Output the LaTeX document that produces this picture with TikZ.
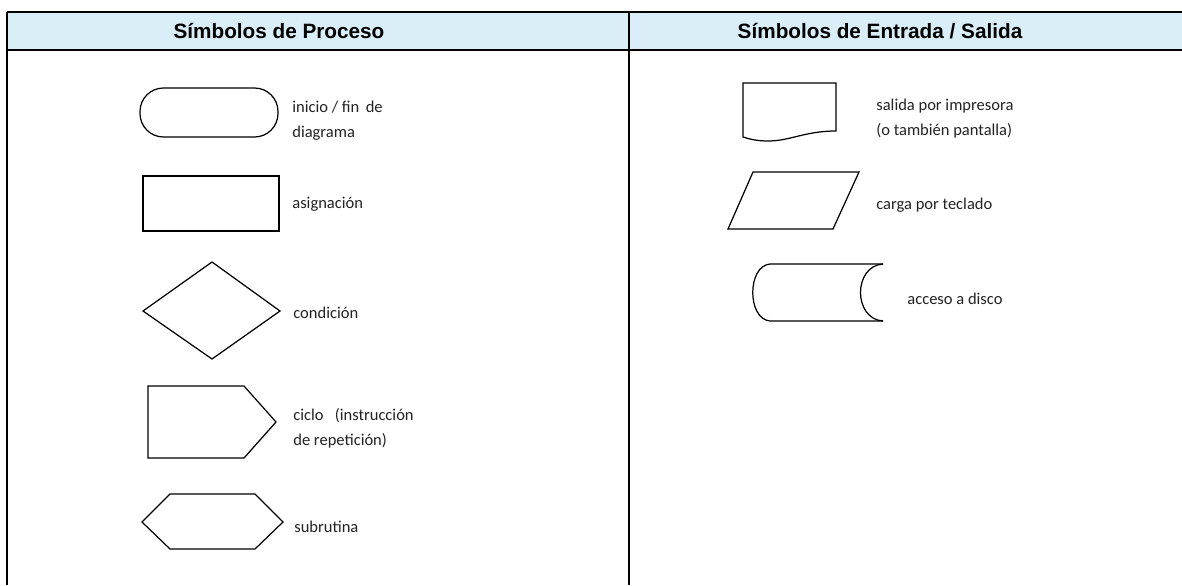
\documentclass[tikz,border=0pt]{standalone}
\usepackage{fontspec}
\setmainfont{Carlito}
\newfontfamily\headfont{Liberation Sans}
\definecolor{headblue}{HTML}{DAEEF7}
\definecolor{lbltext}{HTML}{222222}
\tikzset{
  border/.style={line width=1.4pt, black},
  shp/.style={line width=0.7pt, black},
  head/.style={inner sep=0pt, font=\headfont\bfseries\fontsize{11.8}{14}\selectfont},
  lbl/.style={anchor=west, inner sep=0pt, align=left, text=lbltext,
    font=\fontsize{9.4}{14.2}\selectfont}
}
\begin{document}
\begin{tikzpicture}[x=0.02cm, y=-0.02cm]
\useasboundingbox (0,0) rectangle (1182,585);

% table
\fill [headblue] (7,12) rectangle (1182,50);
\draw [border] (7,12) -- (1182,12);
\draw [border] (7,50) -- (1182,50);
\draw [border] (7,12) -- (7,585);
\draw [border] (629,12) -- (629,585);

\node (hp) [head] at (279,31) {Símbolos de Proceso};
\node (hes) [head] at (880,31) {Símbolos de Entrada / Salida};

% process symbols
\draw [shp, rounded corners=0.47cm] (140,88) rectangle (278,137);
\draw [shp] (143,176) rectangle (279,231);
\draw [shp] (212,262) -- (280,311) -- (212,359) -- (143,311) -- cycle;
\draw [shp] (148,386) -- (244,386) -- (276,422) -- (244,458) -- (148,458) -- cycle;
\draw [shp] (142,522) -- (170,494) -- (255,494) -- (283,522) -- (255,549) -- (170,549) -- cycle;

\node (inicio) [lbl] at (292,120.5) {inicio / fin\, de\\diagrama};
\node (asig) [lbl] at (292,204) {asignación};
\node (cond) [lbl] at (293,313) {condición};
\node (ciclo) [lbl] at (293,428.5) {ciclo\ \ \ (instrucción\\de repetición)};
\node (subr) [lbl] at (294,527) {subrutina};

% input / output symbols
\draw [shp] (743,83) -- (836,83) -- (836,131)
  .. controls (805,131) and (790,141) .. (768,141)
  .. controls (757,141) and (749,139) .. (743,137) -- cycle;
\draw [shp] (753,172) -- (859,172) -- (833,229) -- (728,229) -- cycle;
\draw [shp] (883,264) -- (770,264) .. controls (747,266) and (747,319) .. (770,321) -- (883,321);
\draw [shp] (883,264) .. controls (853,266) and (853,319) .. (883,321);

\node (salida) [lbl] at (876,118.5) {salida por impresora\\(o también pantalla)};
\node (carga) [lbl] at (876,205) {carga por teclado};
\node (disco) [lbl] at (907,299) {acceso a disco};
\end{tikzpicture}
\end{document}
